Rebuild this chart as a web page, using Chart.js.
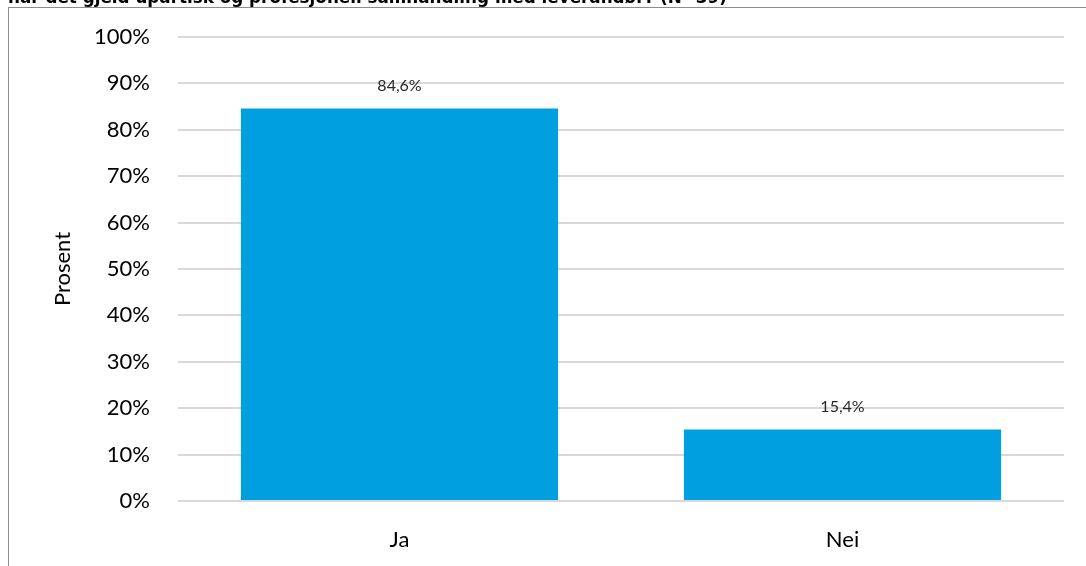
<!DOCTYPE html>
<html>
<head>
<meta charset="utf-8">
<script src="https://cdn.jsdelivr.net/npm/chart.js@4"></script>
<style>
  html, body { margin: 0; padding: 0; background: #fff; overflow: hidden; }
  #wrap { position: relative; width: 1086px; height: 566px; }
  #frame { position: absolute; left: 8px; top: 7px; width: 1100px; height: 600px; border: 1px solid #8c8c8c; box-sizing: border-box; }
  canvas { position: absolute; left: 0; top: 0; }
</style>
</head>
<body>
<div id="wrap">
  <div id="frame"></div>
  <canvas id="myBarChart" width="1086" height="566"></canvas>
</div>
<script>
const categories = ['Ja', 'Nei'];
const values = [84.6, 15.4];
const yTicks = [0, 10, 20, 30, 40, 50, 60, 70, 80, 90, 100];
const titleText = 'har det gjeld upartisk og profesjonell samhandling med leverandør? (N=39)';

// tekst over kvar søyle
const valueLabels = {
    id: 'valueLabels',
    afterDatasetsDraw(chart) {
        const ctx = chart.ctx;
        const meta = chart.getDatasetMeta(0);
        ctx.save();
        ctx.font = '16px Lato, "Open Sans", sans-serif';
        ctx.fillStyle = '#262626';
        ctx.textAlign = 'center';
        ctx.textBaseline = 'middle';
        meta.data.forEach((bar, i) => {
            ctx.fillText(values[i].toFixed(1).replace('.', ',') + '%', bar.x, bar.y - 23);
        });
        ctx.restore();
    }
};

// tittelen er kutta i toppen av biletet
const cutTitle = {
    id: 'cutTitle',
    afterDraw(chart) {
        const ctx = chart.ctx;
        ctx.save();
        ctx.font = 'bold 16.8px "DejaVu Sans", sans-serif';
        ctx.fillStyle = '#000';
        ctx.textAlign = 'left';
        ctx.textBaseline = 'alphabetic';
        ctx.fillText(titleText, 8, 3);
        ctx.restore();
    }
};

const config = {
    type: 'bar',
    data: {
        labels: categories,
        datasets: [{
            label: 'Prosent',
            data: values,
            backgroundColor: '#009FE0',
            categoryPercentage: 0.716,
            barPercentage: 1.0
        }]
    },
    options: {
        responsive: false,
        animation: false,
        layout: { padding: { top: 37, right: 22, left: 0, bottom: 0 } },
        plugins: {
            legend: { display: false },
            title: { display: false },
            tooltip: { enabled: false }
        },
        scales: {
            x: {
                grid: { display: false },
                border: { display: false },
                ticks: {
                    color: '#000',
                    font: { family: 'Lato, "Open Sans", sans-serif', size: 22 },
                    padding: 18
                },
                afterFit: scale => { scale.height = 65; }
            },
            y: {
                min: 0,
                max: 100,
                afterBuildTicks: scale => { scale.ticks = yTicks.map(v => ({ value: v })); },
                grid: { color: '#d9d9d9', lineWidth: 2, drawTicks: false },
                border: { display: false },
                ticks: {
                    color: '#000',
                    font: { family: 'Lato, "Open Sans", sans-serif', size: 22 },
                    padding: 28,
                    callback: v => v + '%'
                },
                title: {
                    display: true,
                    text: 'Prosent',
                    color: '#000',
                    font: { family: 'Lato, "Open Sans", sans-serif', size: 22 },
                    padding: { top: 50, bottom: 0 }
                },
                afterFit: scale => {
                    scale.width = 178;
                    scale.paddingTop = 0;
                    scale.paddingBottom = 0;
                }
            }
        }
    },
    plugins: [valueLabels, cutTitle]
};

window.onload = function() {
    const ctx = document.getElementById('myBarChart').getContext('2d');
    new Chart(ctx, config);
};
</script>
</body>
</html>
